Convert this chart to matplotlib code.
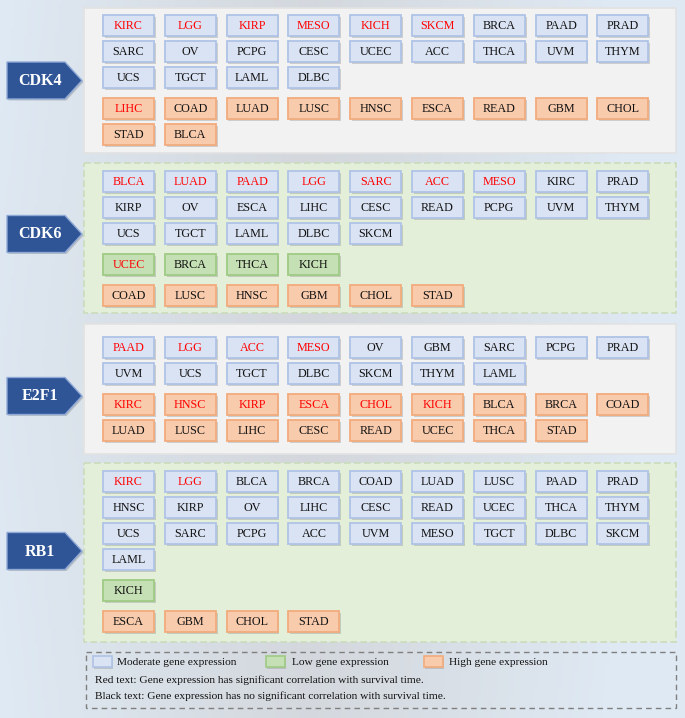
import numpy as np
import matplotlib
matplotlib.use("Agg")
import matplotlib.pyplot as plt
from matplotlib.patches import Rectangle, Polygon

# ---------------- data ----------------
genes = ["CDK4", "CDK6", "E2F1", "RB1"]

cdk4_moderate = ["KIRC", "LGG", "KIRP", "MESO", "KICH", "SKCM", "BRCA", "PAAD", "PRAD",
                 "SARC", "OV", "PCPG", "CESC", "UCEC", "ACC", "THCA", "UVM", "THYM",
                 "UCS", "TGCT", "LAML", "DLBC"]
cdk4_low = []
cdk4_high = ["LIHC", "COAD", "LUAD", "LUSC", "HNSC", "ESCA", "READ", "GBM", "CHOL",
             "STAD", "BLCA"]
cdk4_significant = ["KIRC", "LGG", "KIRP", "MESO", "KICH", "SKCM", "LIHC"]

cdk6_moderate = ["BLCA", "LUAD", "PAAD", "LGG", "SARC", "ACC", "MESO", "KIRC", "PRAD",
                 "KIRP", "OV", "ESCA", "LIHC", "CESC", "READ", "PCPG", "UVM", "THYM",
                 "UCS", "TGCT", "LAML", "DLBC", "SKCM"]
cdk6_low = ["UCEC", "BRCA", "THCA", "KICH"]
cdk6_high = ["COAD", "LUSC", "HNSC", "GBM", "CHOL", "STAD"]
cdk6_significant = ["BLCA", "LUAD", "PAAD", "LGG", "SARC", "ACC", "MESO", "UCEC"]

e2f1_moderate = ["PAAD", "LGG", "ACC", "MESO", "OV", "GBM", "SARC", "PCPG", "PRAD",
                 "UVM", "UCS", "TGCT", "DLBC", "SKCM", "THYM", "LAML"]
e2f1_low = []
e2f1_high = ["KIRC", "HNSC", "KIRP", "ESCA", "CHOL", "KICH", "BLCA", "BRCA", "COAD",
             "LUAD", "LUSC", "LIHC", "CESC", "READ", "UCEC", "THCA", "STAD"]
e2f1_significant = ["PAAD", "LGG", "ACC", "MESO", "KIRC", "HNSC", "KIRP", "ESCA", "CHOL", "KICH"]

rb1_moderate = ["KIRC", "LGG", "BLCA", "BRCA", "COAD", "LUAD", "LUSC", "PAAD", "PRAD",
                "HNSC", "KIRP", "OV", "LIHC", "CESC", "READ", "UCEC", "THCA", "THYM",
                "UCS", "SARC", "PCPG", "ACC", "UVM", "MESO", "TGCT", "DLBC", "SKCM",
                "LAML"]
rb1_low = ["KICH"]
rb1_high = ["ESCA", "GBM", "CHOL", "STAD"]
rb1_significant = ["KIRC", "LGG"]

groups = {
    "CDK4": (cdk4_moderate, cdk4_low, cdk4_high, cdk4_significant),
    "CDK6": (cdk6_moderate, cdk6_low, cdk6_high, cdk6_significant),
    "E2F1": (e2f1_moderate, e2f1_low, e2f1_high, e2f1_significant),
    "RB1": (rb1_moderate, rb1_low, rb1_high, rb1_significant),
}

legend_labels = ["Moderate gene expression", "Low gene expression", "High gene expression"]
legend_notes = ["Red text: Gene expression has significant correlation with survival time.",
                "Black text: Gene expression has no significant correlation with survival time."]

# ---------------- style / layout ----------------
FONT = "Liberation Serif"
fill = {"moderate": "#dae3f3", "low": "#c5e0b4", "high": "#f8cbad"}
edge = {"moderate": "#afc3e6", "low": "#9fcb85", "high": "#f2ab7c"}
panel_fill = {"CDK4": "#f2f2f2", "CDK6": "#e3efd9", "E2F1": "#f2f2f2", "RB1": "#e3efd9"}
panel_edge = {"CDK4": "#e2e2e2", "CDK6": "#cadcbc", "E2F1": "#e2e2e2", "RB1": "#cadcbc"}
panel_top = {"CDK4": 8, "CDK6": 163, "E2F1": 324, "RB1": 463}
panel_bot = {"CDK4": 153, "CDK6": 313, "E2F1": 454, "RB1": 642}
first_row = {"CDK4": 15, "CDK6": 171, "E2F1": 337, "RB1": 471}
arrow_mid = {"CDK4": 80.5, "CDK6": 234, "E2F1": 396, "RB1": 551}

W, H = 685, 718
X0, DX, BW, BH = 103, 61.8, 51, 21
ROW, GAP = 26, 31
NCOL = 9

fig = plt.figure(figsize=(W / 100, H / 100), dpi=100)
ax = fig.add_axes([0, 0, 1, 1])
ax.set_xlim(0, W)
ax.set_ylim(H, 0)
ax.axis("off")

# background gradient
xx = np.linspace(0, 1, 200)[None, :]
yy = np.linspace(0, 1, 200)[:, None]
c_mid = np.array([0.83, 0.845, 0.865])
c_edge = np.array([0.875, 0.915, 0.955])
t = np.clip(np.abs(xx - 0.45) * 2.0 + 0.25 * np.abs(yy - 0.5), 0, 1) ** 1.3
bg = c_mid[None, None, :] * (1 - t[..., None]) + c_edge[None, None, :] * t[..., None]
ax.imshow(bg, extent=[0, W, H, 0], aspect="auto", zorder=0)


def box(x, y, fc, ec, text, color, z=3):
    ax.add_patch(Rectangle((x + 1.8, y + 1.8), BW, BH, fc="#8a8a8a", ec="none",
                           alpha=0.35, zorder=z))
    ax.add_patch(Rectangle((x, y), BW, BH, fc=fc, ec=ec, lw=1.3, zorder=z + 1))
    if text:
        ax.text(x + BW / 2, y + BH / 2 + 0.5, text, ha="center", va="center",
                fontsize=8.7, family=FONT, color=color, zorder=z + 2)


for g in genes:
    moderate, low, high, sig = groups[g]
    top, bot = panel_top[g], panel_bot[g]
    dashed = g in ("CDK6", "RB1")
    ax.add_patch(Rectangle((84, top), 592, bot - top, fc=panel_fill[g], ec=panel_edge[g],
                           lw=1.2, ls=(0, (4, 2)) if dashed else "-", zorder=1))
    y = first_row[g]
    for kind, items in (("moderate", moderate), ("low", low), ("high", high)):
        if not items:
            continue
        nrows = 0
        for i, name in enumerate(items):
            r, c = divmod(i, NCOL)
            nrows = r + 1
            box(X0 + DX * c, y + ROW * r, fill[kind], edge[kind], name,
                "#ff0000" if name in sig else "#111111")
        y = y + ROW * (nrows - 1) + GAP
    # arrow label
    m = arrow_mid[g]
    hh = 18.5
    pts = [(7, m - hh), (65, m - hh), (82, m), (65, m + hh), (7, m + hh)]
    ax.add_patch(Polygon([(p[0] + 1.5, p[1] + 1.5) for p in pts], closed=True,
                         fc="#7a7a7a", ec="none", alpha=0.35, zorder=2))
    ax.add_patch(Polygon(pts, closed=True, fc="#2f5597", ec="#8fa9d6", lw=1.0, zorder=3))
    ax.text(40, m + 0.5, g, ha="center", va="center", fontsize=11.5, weight="bold",
            family=FONT, color="white", zorder=4)

# legend
ax.add_patch(Rectangle((86, 652), 590, 56, fc="none", ec="#7f7f7f", lw=1.0,
                       ls=(0, (4, 3)), zorder=2))
leg_boxes = [(93, "moderate", 117), (266, "low", 292), (424, "high", 449)]
for (bx, kind, tx), lab in zip(leg_boxes, legend_labels):
    ax.add_patch(Rectangle((bx + 1.5, 657.5), 19, 11, fc="#8a8a8a", ec="none",
                           alpha=0.35, zorder=3))
    ax.add_patch(Rectangle((bx, 656), 19, 11, fc=fill[kind], ec=edge[kind], lw=1.2, zorder=4))
    ax.text(tx, 662.5, lab, ha="left", va="center", fontsize=8.2, family=FONT,
            color="#111111", zorder=5)
for yv, note in zip((680, 696.5), legend_notes):
    ax.text(95, yv, note, ha="left", va="center", fontsize=8.2, family=FONT,
            color="#111111", zorder=5)

fig.savefig("out.png", dpi=100)
